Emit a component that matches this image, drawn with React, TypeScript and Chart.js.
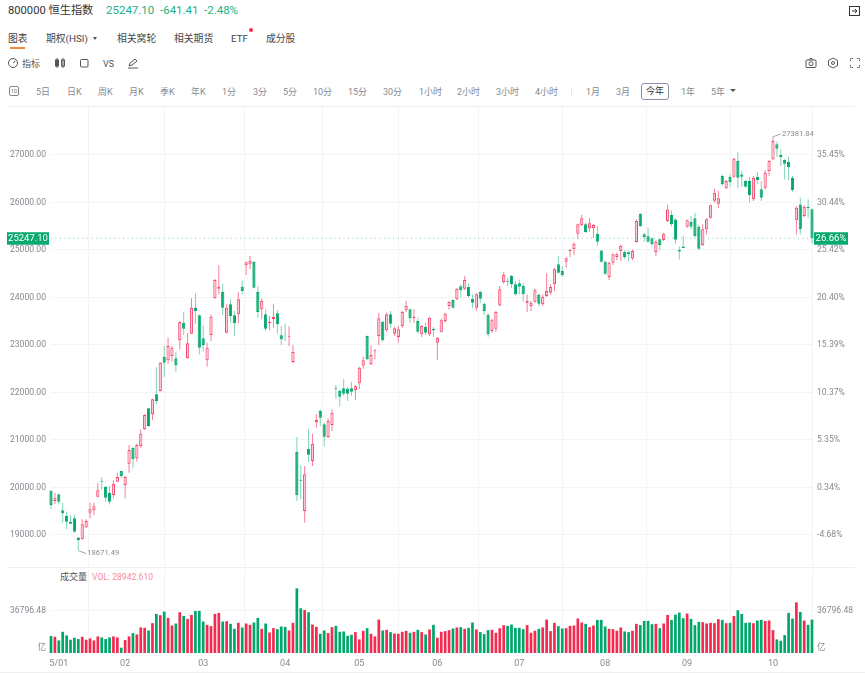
import { useEffect, useRef } from "react"
import { Chart, registerables } from "chart.js"

Chart.register(...registerables)

const opens = [
  19930, 19716, 19857, 19520, 19400, 19274, 19352, 18945, 18910, 19155, 19470, 19520, 19806, 20137, 20010, 19890, 19842, 20122, 20347, 20052,
  20500, 20838, 20614, 20873, 21225, 21667, 21540, 21962, 22031, 22753, 22677, 22767, 22720, 23098, 23469, 22720, 23237, 23785, 23625, 23141,
  22678, 23210, 23983, 24185, 24115, 23260, 23857, 23625, 23646, 24227, 24677, 24698, 24754, 24115, 23750, 23646, 23463, 23547, 23667, 23204,
  23216, 23175, 22641, 20747, 20164, 19505, 20817, 20558, 21372, 21610, 21330, 21063, 21315, 22094, 22031, 22088, 22080, 22088, 22046, 22193,
  22570, 23190, 22593, 22867, 23189, 23490, 23309, 23646, 23238, 23168, 23400, 23730, 23751, 23561, 23505, 23225, 23385, 23225, 23336, 23048,
  23280, 23505, 23820, 23947, 23962, 24235, 24185, 24227, 23974, 23785, 24120, 23870, 23630, 23295, 23343, 23835, 24325, 24347, 24452, 24277,
  24298, 24241, 23890, 23820, 23910, 24052, 23857, 24031, 24100, 24277, 24698, 24557, 24754, 24979, 25013, 25342, 25520, 25540, 25457, 25457,
  25343, 24988, 24754, 24430, 24733, 24854, 24979, 24965, 24950, 24818, 25168, 25763, 25330, 25287, 25245, 24958, 25224, 25210, 25610, 25737,
  25640, 25000, 25073, 25490, 25590, 25667, 25490, 25105, 25435, 25680, 26035, 25975, 26558, 26300, 26543, 26543, 26874, 26590, 26453, 26453,
  26067, 26537, 26278, 26311, 26663, 26910, 27225, 27000, 26895, 26860, 26522, 25625, 25960, 25716, 25905, 25860,
]
const highs = [
  19947, 19890, 19860, 19680, 19490, 19421, 19420, 18950, 19330, 19330, 19680, 19680, 20100, 20220, 20030, 20030, 20151, 20311, 20350, 20240,
  20895, 20850, 20920, 21225, 21540, 21680, 21870, 22530, 22640, 22978, 23153, 22985, 22858, 23500, 23694, 23252, 23983, 24088, 23640, 23414,
  23048, 23646, 24390, 24677, 24290, 23857, 23962, 23715, 24120, 24360, 24760, 24873, 24770, 24241, 23983, 23751, 23610, 23870, 23736, 23400,
  23456, 23393, 23000, 21063, 20467, 20452, 21225, 21132, 21540, 21640, 21364, 21460, 21640, 22157, 22067, 22278, 22110, 22227, 22160, 22540,
  22755, 23200, 22993, 22909, 23680, 23510, 23680, 23715, 23378, 23400, 23720, 23926, 23770, 23751, 23575, 23420, 23470, 23596, 23378, 23168,
  23560, 23680, 23930, 23960, 24200, 24280, 24445, 24298, 24067, 24090, 24140, 23890, 23670, 23550, 23715, 24241, 24543, 24404, 24473, 24340,
  24375, 24300, 24067, 23930, 24190, 24090, 24067, 24508, 24277, 24620, 24873, 24662, 24845, 25020, 25160, 25560, 25740, 25575, 25667, 25550,
  25504, 25000, 24780, 24760, 24930, 24944, 25115, 24994, 24990, 25010, 25640, 25780, 25360, 25470, 25260, 25210, 25245, 25365, 25950, 25826,
  25670, 25073, 25295, 25640, 25716, 25785, 25530, 25540, 25667, 25960, 26290, 26240, 26590, 26480, 26590, 26940, 27060, 26660, 26480, 26537,
  26558, 26642, 26450, 26680, 26895, 27381.84, 27280, 27120, 26920, 26965, 26558, 25925, 26100, 25940, 26070, 25870,
]
const lows = [
  19547, 19650, 19646, 19259, 19120, 19225, 19048, 18671.49, 18900, 19150, 19350, 19420, 19790, 19960, 19700, 19640, 19772, 20120, 20194, 19772,
  20311, 20417, 20543, 20825, 21210, 21280, 21415, 21750, 22020, 22326, 22605, 22648, 22437, 22910, 23210, 22710, 23230, 23448, 22804, 22858,
  22543, 23083, 23970, 24067, 23630, 23240, 23470, 23190, 23456, 24067, 24473, 24593, 24190, 23574, 23540, 23300, 23308, 23365, 23240, 23000,
  23083, 22980, 22620, 19716, 19751, 19259, 20537, 20452, 21259, 21295, 20873, 21040, 21190, 21870, 21715, 21926, 21820, 21926, 21842, 22067,
  22500, 22680, 22580, 22700, 22993, 23069, 23280, 23364, 23190, 23048, 23364, 23694, 23470, 23470, 23238, 23170, 23210, 23190, 23168, 22678,
  23260, 23470, 23740, 23770, 23940, 23995, 24157, 23995, 23773, 23715, 23880, 23630, 23175, 23260, 23280, 23810, 24290, 24241, 24192, 24030,
  24067, 23910, 23694, 23715, 23890, 23820, 23820, 24010, 24060, 24136, 24500, 24430, 24627, 24852, 24894, 25224, 25500, 25350, 25386, 25245,
  25090, 24730, 24472, 24367, 24683, 24783, 24768, 24804, 24768, 24790, 25150, 25490, 25168, 25155, 25090, 24873, 24994, 25190, 25590, 25500,
  25130, 24800, 25040, 25470, 25435, 25260, 24994, 25090, 25330, 25660, 26000, 25878, 26350, 26280, 26333, 26510, 26310, 26333, 26310, 25996,
  26030, 26383, 26030, 26270, 26558, 26890, 26965, 26770, 26490, 26470, 26228, 25330, 25330, 25690, 25680, 25130,
]
const closes = [
  19630, 19772, 19700, 19457, 19280, 19238, 19070, 18890, 19225, 19295, 19540, 19604, 19941, 20122, 19785, 19700, 20080, 20220, 20242, 20220,
  20789, 20594, 20895, 21132, 21526, 21295, 21855, 21820, 22627, 22627, 22978, 22943, 22578, 23484, 23343, 23035, 23785, 23715, 22943, 23000,
  22943, 23595, 24368, 24227, 23785, 23785, 23610, 23456, 23962, 24136, 24740, 24768, 24206, 23694, 23926, 23343, 23490, 23590, 23435, 23120,
  23204, 23196, 22852, 19836, 20143, 20278, 20690, 20922, 21420, 21470, 21070, 21400, 21575, 22080, 21911, 21974, 21974, 22016, 22130, 22520,
  22677, 22698, 22790, 22888, 23561, 23098, 23646, 23448, 23351, 23330, 23694, 23820, 23561, 23595, 23280, 23400, 23260, 23575, 23310, 23153,
  23520, 23660, 23911, 23785, 24185, 24157, 24368, 24031, 23890, 24067, 23974, 23715, 23225, 23533, 23694, 24172, 24473, 24332, 24277, 24067,
  24227, 24067, 23926, 23890, 24150, 23870, 24015, 24136, 24220, 24593, 24522, 24473, 24824, 25000, 25132, 25540, 25667, 25378, 25562, 25525,
  25175, 24750, 24500, 24733, 24910, 24910, 25084, 24854, 24910, 24979, 25610, 25504, 25273, 25175, 25120, 25175, 25105, 25343, 25850, 25540,
  25217, 24970, 25042, 25625, 25490, 25295, 25028, 25435, 25646, 25942, 26206, 26090, 26383, 26453, 26430, 26922, 26522, 26543, 26333, 26150,
  26522, 26474, 26100, 26627, 26874, 27295, 27133, 26950, 26817, 26747, 26263, 25890, 25435, 25912, 25878, 25247.1,
]
const volumes = [
  14660, 14090, 10930, 18400, 15240, 11500, 13230, 12080, 14090, 11500, 12650, 10930, 14380, 13510, 12080, 13510, 14380, 13510, 4600, 11210,
  14380, 17250, 16100, 22140, 21850, 19550, 25880, 33930, 32780, 35940, 30480, 23860, 25590, 35360, 32200, 29610, 33060, 36510, 36510, 27310,
  24440, 23290, 33930, 34790, 27310, 27600, 25300, 20990, 26160, 22140, 25590, 24440, 26450, 30480, 20990, 25590, 17830, 21560, 20700, 23000,
  22710, 19550, 26160, 56060, 38810, 37380, 35360, 24730, 22710, 16680, 19550, 17250, 22430, 23580, 18400, 18690, 14950, 15810, 18110, 11790,
  19260, 21560, 16680, 14380, 29040, 19550, 20130, 18110, 16960, 16680, 18400, 19260, 17540, 18400, 20130, 18110, 16100, 20410, 24440, 13230,
  18400, 18980, 19840, 21280, 22140, 22430, 20990, 21850, 26450, 20410, 18110, 16390, 19840, 20130, 17540, 21560, 24150, 23580, 24730, 21850,
  21850, 20700, 24150, 17540, 19260, 20990, 22140, 29040, 18980, 26160, 23290, 21280, 21560, 23580, 23860, 29900, 26450, 25300, 22430, 23860,
  28750, 28750, 23000, 20990, 20700, 19260, 22140, 18690, 18110, 19260, 25300, 24150, 27890, 27890, 25010, 25300, 21560, 25590, 33060, 28750,
  33350, 35080, 30190, 34210, 29610, 24150, 27030, 26740, 25590, 26160, 25880, 29330, 28750, 25880, 26160, 32200, 37090, 33930, 26160, 26450,
  25880, 28180, 28750, 27890, 28180, 19840, 11790, 10640, 15530, 34790, 29900, 43990, 35650, 28180, 24440, 28942.61,
]

// first trading day of each month -> axis label
const monthLabels: Record<number, string> = {
  0: "       5/01", 19: "02", 39: "03", 60: "04", 79: "05", 99: "06", 120: "07", 142: "08", 163: "09", 185: "10",
}

const priceTicks = [19000, 20000, 21000, 22000, 23000, 24000, 25000, 26000, 27000]
const lastPrice = 25247.1
const lastPercent = "26.66%"
const prevBase = 19933
const volTick = 36796.48
const volUnitTick = 4300

const GREEN = "#00a76a"
const GREEN_WICK = "#80d2b4"
const GREEN_TAG = "#0aa96f"
const RED = "#f4456a"
const RED_BAR = "#f32b50"
const RED_WICK = "#f67f97"
const RED_FILL = "#fdc9d3"
const GRID = "#f4f4f5"
const LABEL = "#858a91"
const FONT = "Roboto, 'Noto Sans CJK SC', sans-serif"

const labels = closes.map((_, i) => i)
const isUp = closes.map((c, i) => c >= opens[i])

const keepMonthTicks = (axis: any) => {
  axis.ticks = axis.ticks.filter((t: any) => monthLabels[t.value] !== undefined)
}
const setPriceTicks = (axis: any) => {
  axis.ticks = priceTicks.map((value) => ({ value }))
}
// fixed axis box, no room reserved for half a tick label
const fitAxis = (size: number) => (axis: any) => {
  if (axis.isHorizontal()) axis.height = size
  else axis.width = size
  axis.paddingTop = 0
  axis.paddingBottom = 0
  axis.paddingLeft = 0
  axis.paddingRight = 0
}

const overlayPlugin = {
  id: "overlay",
  afterDatasetsDraw(chart: any) {
    const { ctx, scales, chartArea } = chart
    const y = scales.y.getPixelForValue(lastPrice)

    ctx.save()
    ctx.strokeStyle = "#7fd0b4"
    ctx.lineWidth = 1
    ctx.setLineDash([1, 3.5])
    ctx.beginPath()
    ctx.moveTo(chartArea.left, y)
    ctx.lineTo(chartArea.right, y)
    ctx.stroke()
    ctx.setLineDash([])

    ctx.fillStyle = GREEN_TAG
    ctx.fillRect(7, y - 6, 42, 12.5)
    ctx.fillRect(chartArea.right + 2, y - 6, 34, 12.5)
    ctx.fillStyle = "#fff"
    ctx.font = `9.5px ${FONT}`
    ctx.textBaseline = "middle"
    ctx.textAlign = "center"
    ctx.fillText(lastPrice.toFixed(2), 28, y + 0.5)
    ctx.fillText(lastPercent, chartArea.right + 19, y + 0.5)

    // high and low markers
    const maxHigh = Math.max(...highs)
    const minLow = Math.min(...lows)
    const hx = scales.x.getPixelForValue(highs.indexOf(maxHigh))
    const hy = scales.y.getPixelForValue(maxHigh)
    const lx = scales.x.getPixelForValue(lows.indexOf(minLow))
    const ly = scales.y.getPixelForValue(minLow)
    ctx.strokeStyle = "#8d9197"
    ctx.lineWidth = 0.8
    ctx.beginPath()
    ctx.moveTo(hx, hy)
    ctx.lineTo(hx + 8, hy - 3)
    ctx.moveTo(lx, ly)
    ctx.lineTo(lx + 8, ly + 3)
    ctx.stroke()
    ctx.fillStyle = LABEL
    ctx.font = `7.6px ${FONT}`
    ctx.textAlign = "left"
    ctx.fillText(maxHigh.toFixed(2), hx + 9, hy - 3)
    ctx.fillText(minLow.toFixed(2), lx + 9, ly + 3)
    ctx.restore()
  },
}

function PriceChart() {
  const ref = useRef<HTMLCanvasElement>(null)
  useEffect(() => {
    if (!ref.current) return
    const chart = new Chart(ref.current, {
      type: "bar",
      data: {
        labels,
        datasets: [
          {
            label: "body",
            data: opens.map((o, i) => [o, closes[i]]),
            backgroundColor: isUp.map((u) => (u ? RED_FILL : GREEN)),
            borderColor: isUp.map((u) => (u ? RED : GREEN)),
            borderWidth: 1,
            borderSkipped: false,
            barThickness: 3.2,
            grouped: false,
            inflateAmount: 0,
            clip: false,
            order: 1,
          },
          {
            label: "wick",
            data: lows.map((l, i) => [l, highs[i]]),
            backgroundColor: isUp.map((u) => (u ? RED_WICK : GREEN_WICK)),
            borderWidth: 0,
            barThickness: 1,
            grouped: false,
            inflateAmount: 0,
            clip: false,
            order: 2,
          },
        ],
      } as any,
      options: {
        animation: false,
        responsive: false,
        layout: { padding: 0, autoPadding: false },
        plugins: { legend: { display: false }, tooltip: { enabled: false } },
        scales: {
          x: {
            offset: false,
            afterBuildTicks: keepMonthTicks,
            afterFit: fitAxis(0),
            grid: { color: GRID, drawTicks: false },
            border: { display: false },
            ticks: { display: false, autoSkip: false },
          },
          y: {
            position: "left",
            min: 18326,
            max: 28010,
            afterBuildTicks: setPriceTicks,
            afterFit: fitAxis(51),
            grid: { color: GRID, drawTicks: false },
            border: { display: false },
            ticks: {
              padding: 5,
              color: LABEL,
              font: { family: FONT, size: 8.6 },
              callback: (v: any) => Number(v).toFixed(2),
            },
          },
          y1: {
            position: "right",
            min: 18326,
            max: 28010,
            afterBuildTicks: setPriceTicks,
            afterFit: fitAxis(53),
            grid: { display: false, drawTicks: false },
            border: { display: true, color: GRID },
            ticks: {
              padding: 5,
              color: LABEL,
              font: { family: FONT, size: 8.6 },
              callback: (v: any) => `${((Number(v) / prevBase - 1) * 100).toFixed(2)}%`,
            },
          },
        },
      },
      plugins: [overlayPlugin],
    } as any)
    return () => chart.destroy()
  }, [])
  return <canvas ref={ref} width={865} height={460} style={{ position: "absolute", left: 0, top: 107 }} />
}

function VolumeChart() {
  const ref = useRef<HTMLCanvasElement>(null)
  useEffect(() => {
    if (!ref.current) return
    const volTicks = (axis: any) => {
      axis.ticks = [{ value: volTick }, { value: volUnitTick }]
    }
    const volLabel = (v: any) => (Number(v) === volTick ? volTick.toFixed(2) : "亿")
    const chart = new Chart(ref.current, {
      type: "bar",
      data: {
        labels,
        datasets: [
          {
            label: "成交量",
            data: volumes,
            backgroundColor: isUp.map((u) => (u ? RED_BAR : GREEN)),
            barThickness: 2.7,
            inflateAmount: 0,
            clip: false,
          },
        ],
      },
      options: {
        animation: false,
        responsive: false,
        layout: { padding: 0, autoPadding: false },
        plugins: { legend: { display: false }, tooltip: { enabled: false } },
        scales: {
          x: {
            offset: false,
            afterBuildTicks: keepMonthTicks,
            afterFit: fitAxis(21),
            grid: { color: GRID, drawTicks: false },
            border: { display: false },
            ticks: {
              autoSkip: false,
              maxRotation: 0,
              padding: 5,
              color: LABEL,
              font: { family: FONT, size: 9 },
              callback: (v: any) => monthLabels[v],
            },
          },
          y: {
            position: "left",
            min: 0,
            max: 72900,
            afterBuildTicks: volTicks,
            afterFit: fitAxis(51),
            grid: {
              color: (c: any) => (c.tick && c.tick.value === volTick ? GRID : "transparent"),
              drawTicks: false,
            },
            border: { display: false },
            ticks: { padding: 5, color: LABEL, font: { family: FONT, size: 8.6 }, callback: volLabel },
          },
          y1: {
            position: "right",
            min: 0,
            max: 72900,
            afterBuildTicks: volTicks,
            afterFit: fitAxis(53),
            grid: { display: false, drawTicks: false },
            border: { display: true, color: GRID },
            ticks: { padding: 5, color: LABEL, font: { family: FONT, size: 8.6 }, callback: volLabel },
          },
        },
      },
    } as any)
    return () => chart.destroy()
  }, [])
  return <canvas ref={ref} width={865} height={105} style={{ position: "absolute", left: 0, top: 569 }} />
}

const tabs: [string, number][] = [
  ["图表", 8], ["期权(HSI)", 46], ["相关窝轮", 117], ["相关期货", 174], ["ETF", 231], ["成分股", 266],
]
const periods: [string, number][] = [
  ["5日", 36], ["日K", 67], ["周K", 98], ["月K", 129], ["季K", 160], ["年K", 191], ["1分", 222], ["3分", 253], ["5分", 283],
  ["10分", 313], ["15分", 348], ["30分", 383], ["1小时", 419], ["2小时", 457], ["3小时", 496], ["4小时", 535],
  ["1月", 586], ["3月", 616], ["1年", 681], ["5年", 711],
]

function Text(props: { x: number; y: number; size: number; color: string; weight?: number; children: any }) {
  return (
    <span
      style={{
        position: "absolute",
        left: props.x,
        top: props.y,
        transform: "translateY(-50%)",
        fontSize: props.size,
        color: props.color,
        fontWeight: props.weight || 400,
        whiteSpace: "nowrap",
        lineHeight: 1,
      }}
    >
      {props.children}
    </span>
  )
}

function Icon(props: { x: number; y: number; children: any }) {
  return (
    <svg
      width={12}
      height={12}
      viewBox="0 0 12 12"
      fill="none"
      stroke="#555"
      strokeWidth={1}
      style={{ position: "absolute", left: props.x, top: props.y }}
    >
      {props.children}
    </svg>
  )
}

function Header() {
  return (
    <>
      <Text x={8} y={11} size={11.2} color="#333" weight={400}>800000 恒生指数</Text>
      <Text x={106} y={11} size={11.5} color="#18b283">25247.10</Text>
      <Text x={160} y={11} size={11.5} color="#18b283">-641.41</Text>
      <Text x={204} y={11} size={11.5} color="#18b283">-2.48%</Text>
      <Icon x={849} y={5}>
        <rect x={0.5} y={1.5} width={10} height={9} stroke="#333" />
        <path d="M3 6h5M6 4l2 2-2 2" stroke="#333" />
      </Icon>

      {tabs.map(([t, x]) => (
        <Text key={t} x={x} y={38.5} size={9.8} color="#444">{t}</Text>
      ))}
      <div style={{ position: "absolute", left: 10, top: 47, width: 15, height: 1.5, background: "#f08a3c" }} />
      <div style={{ position: "absolute", left: 93, top: 37, width: 0, height: 0, borderLeft: "2.5px solid transparent", borderRight: "2.5px solid transparent", borderTop: "3px solid #555" }} />
      <div style={{ position: "absolute", left: 249, top: 28, width: 4, height: 4, borderRadius: 2, background: "#ef2b4e" }} />

      <Icon x={7} y={57}>
        <circle cx={6} cy={6} r={4.5} />
        <path d="M6 6l2.5-2" />
      </Icon>
      <Text x={22} y={63.5} size={9} color="#555">指标</Text>
      <Icon x={54} y={57}>
        <path d="M3 1v10M9 1v10" />
        <rect x={1.5} y={3} width={3} height={6} fill="#555" />
        <rect x={7.5} y={3} width={3} height={6} />
      </Icon>
      <Icon x={78} y={57}>
        <rect x={2.5} y={2.5} width={7.5} height={7.5} rx={1} />
      </Icon>
      <Text x={103} y={63.5} size={9} color="#555">VS</Text>
      <Icon x={127} y={57}>
        <path d="M2 9l1-3 5-4 2 2-5 4zM1 11h10" />
      </Icon>
      <Icon x={805} y={57}>
        <rect x={1} y={3} width={10} height={7.5} rx={1} />
        <circle cx={6} cy={6.7} r={2} />
        <path d="M4 3l1-1.5h2L8 3" />
      </Icon>
      <Icon x={827} y={57}>
        <path d="M6 1l4.5 2.5v5L6 11 1.5 8.500v-5z" />
        <circle cx={6} cy={6} r={1.5} />
      </Icon>
      <Icon x={849} y={57}>
        <path d="M1.500 4V1.500H4M8 1.500h2.500V4M1.500 8v2.500H4M8 10.500h2.500V8" strokeDasharray="1.500 .5" />
      </Icon>

      <div style={{ position: "absolute", left: 9, top: 86, width: 8, height: 8, border: "1px solid #888", borderRadius: 2, fontSize: 5.5, lineHeight: "8px", textAlign: "center", color: "#777" }}>1D</div>
      {periods.map(([t, x]) => (
        <Text key={t} x={x} y={91.5} size={9} color="#858a91">{t}</Text>
      ))}
      <div style={{ position: "absolute", left: 571, top: 87, width: 1, height: 8, background: "#e8e8e8" }} />
      <div style={{ position: "absolute", left: 641, top: 83, width: 26, height: 15, border: "1px solid #8a93a5", borderRadius: 3, fontSize: 9, lineHeight: "15px", textAlign: "center", color: "#333" }}>今年</div>
      <div style={{ position: "absolute", left: 730, top: 89, width: 0, height: 0, borderLeft: "3px solid transparent", borderRight: "3px solid transparent", borderTop: "3.5px solid #555" }} />

      <div style={{ position: "absolute", left: 8, top: 106, width: 847, height: 1, background: "#efeff0" }} />
      <div style={{ position: "absolute", left: 8, top: 567, width: 847, height: 1, background: "#efeff0" }} />
      <div style={{ position: "absolute", left: 0, top: 672, width: 865, height: 1, background: "#efeff0" }} />
      <Text x={60} y={577} size={9} color="#555">成交量</Text>
      <Text x={92} y={577} size={8.6} color="#f78d9c">VOL: 28942.610</Text>
    </>
  )
}

export default function App() {
  return (
    <div
      style={{
        position: "absolute",
        left: 0,
        top: 0,
        width: 865,
        height: 674,
        overflow: "hidden",
        background: "#fff",
        fontFamily: FONT,
      }}
    >
      <Header />
      <PriceChart />
      <VolumeChart />
    </div>
  )
}
